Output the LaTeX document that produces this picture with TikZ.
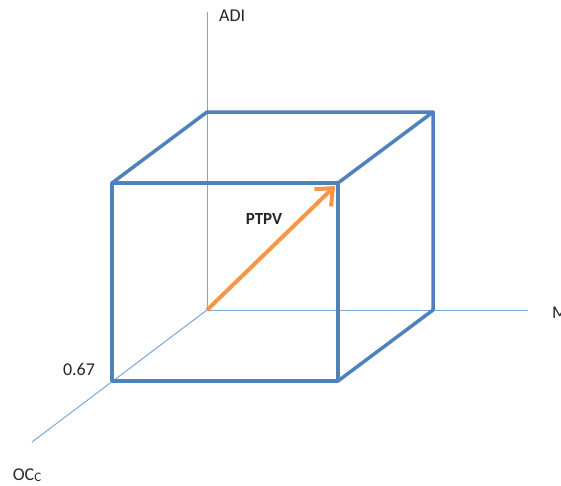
\documentclass[tikz,border=0pt]{standalone}
\usepackage{fontspec}
\setmainfont{Carlito}
\usetikzlibrary{arrows.meta}
\definecolor{cubeblue}{HTML}{4F81BD}
\definecolor{axisblue}{HTML}{7EA6D8}
\definecolor{arroworange}{HTML}{F79646}
\tikzset{
  axisline/.style={draw=axisblue, line width=1pt},
  cubeline/.style={draw=cubeblue, line width=3.5pt, line join=round, line cap=round},
  vecline/.style={draw=arroworange, line width=4pt, -{Straight Barb[length=14pt,width=24pt,line width=4pt]}},
  lbl/.style={font=\fontsize{18}{21}\selectfont, text=black!85, inner sep=0pt}
}
\begin{document}
\begin{tikzpicture}[x=1pt,y=-1pt]
\useasboundingbox (0,0) rectangle (561,485);
% axes
\coordinate (O) at (207,310);
\coordinate (adiend) at (207,12);
\coordinate (mend) at (528,310);
\coordinate (ocend) at (32,442);
\draw[axisline] (O) -- (adiend);
\draw[axisline] (O) -- (mend);
\draw[axisline] (O) -- (ocend);
% cube corners
\coordinate (ftl) at (112,183);
\coordinate (ftr) at (338,183);
\coordinate (fbr) at (338,381);
\coordinate (fbl) at (112,381);
\coordinate (btl) at (207,112);
\coordinate (btr) at (433,112);
\coordinate (bbr) at (433,310);
\draw[cubeline] (ftl) -- (ftr) -- (fbr) -- (fbl) -- cycle;
\draw[cubeline] (ftl) -- (btl) -- (btr) -- (ftr);
\draw[cubeline] (btr) -- (bbr) -- (fbr);
% vector
\coordinate (vtip) at (335,186);
\draw[vecline] (O) -- (vtip);
% labels
\node[lbl, anchor=west] (adi) at (219,16) {ADI};
\node[lbl, anchor=west] (m) at (552,313) {M};
\node[lbl] (oc) at (27,475) {OC\raisebox{-0.5pt}{\fontsize{13}{15}\selectfont C}};
\node[lbl] (val) at (79,369) {0.67};
\node[lbl, font=\fontsize{17}{20}\selectfont\bfseries] (ptpv) at (264,219) {PTPV};
\end{tikzpicture}
\end{document}
